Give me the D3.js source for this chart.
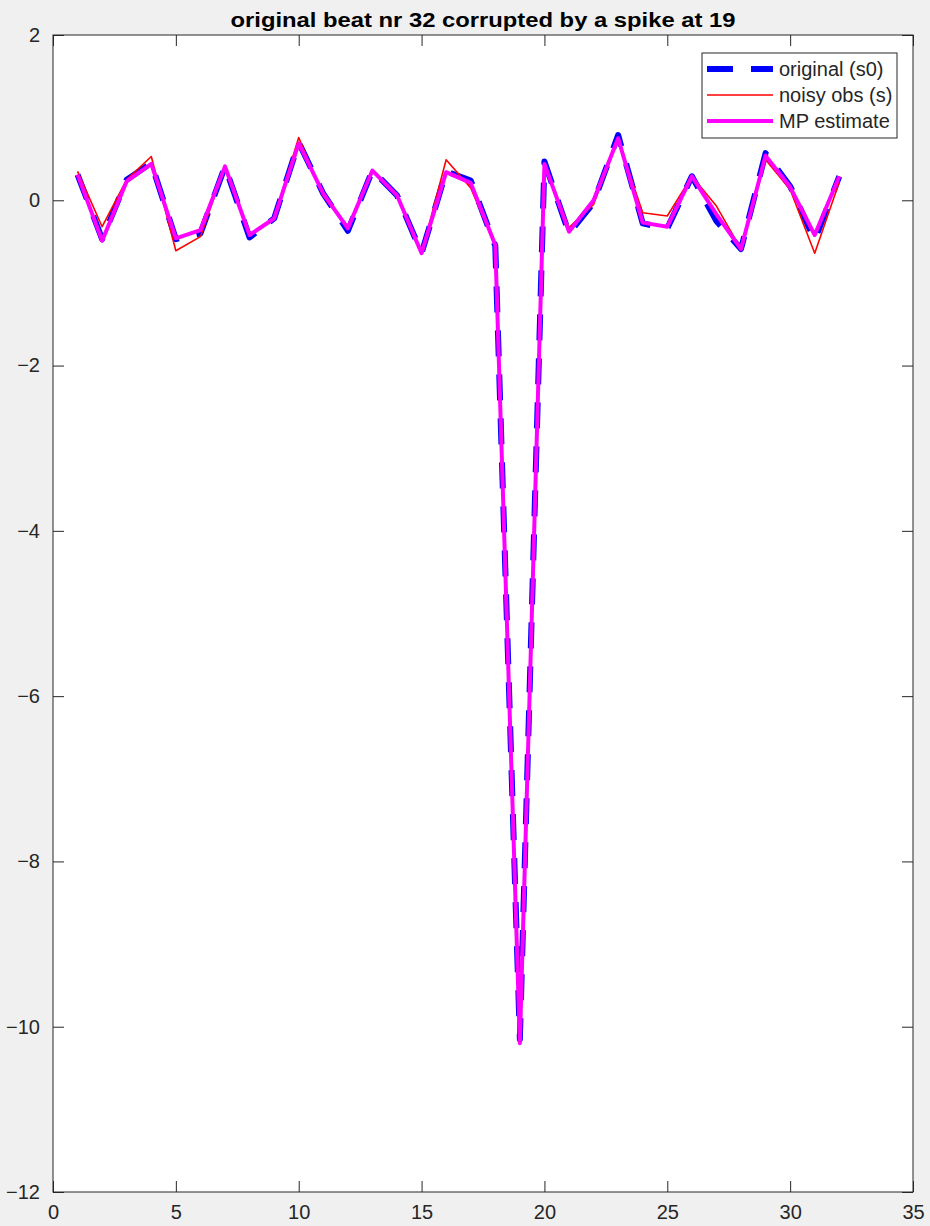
<!DOCTYPE html>
<html>
<head>
<meta charset="utf-8">
<title>beat 32</title>
<script src="https://d3js.org/d3.v7.min.js"></script>
<style>
body { margin: 0; background: #f0f0f0; }
svg { display: block; font-family: Arial, "Liberation Sans", sans-serif; }
.tick text { fill: #262626; font-size: 20px; }
.tick line { stroke: #262626; }
.domain { display: none; }
</style>
</head>
<body>
<script>
// sample index 1..32
var idx = d3.range(1, 33);

// original beat (s0)
var s0 = [0.31, -0.47, 0.25, 0.45, -0.47, -0.40, 0.41, -0.45, -0.22, 0.70,
          0.08, -0.37, 0.36, 0.06, -0.64, 0.35, 0.24, -0.55, -10.15, 0.47,
          -0.40, -0.03, 0.79, -0.28, -0.34, 0.29, -0.25, -0.59, 0.57, 0.17,
          -0.48, 0.29];

// noisy observation (s)
var noisy = [0.35, -0.32, 0.25, 0.53, -0.61, -0.44, 0.41, -0.42, -0.21, 0.76,
             0.05, -0.34, 0.36, 0.06, -0.64, 0.49, 0.15, -0.55, -10.15, 0.45,
             -0.33, -0.05, 0.74, -0.15, -0.19, 0.29, -0.07, -0.59, 0.49, 0.13,
             -0.64, 0.22];

// MP estimate
var mp = [0.31, -0.49, 0.23, 0.44, -0.46, -0.36, 0.41, -0.42, -0.22, 0.69,
          0.08, -0.34, 0.36, 0.06, -0.64, 0.34, 0.21, -0.54, -10.2, 0.44,
          -0.38, 0.0, 0.75, -0.27, -0.32, 0.29, -0.17, -0.59, 0.54, 0.16,
          -0.42, 0.29];

var xTicks = [0, 5, 10, 15, 20, 25, 30, 35];
var yTicks = [2, 0, -2, -4, -6, -8, -10, -12];
var legendLabels = ["original (s0)", "noisy obs (s)", "MP estimate"];

var W = 930, H = 1226;
var m = {left: 53, right: 913, top: 35, bottom: 1192};
var tickLen = 11;
var axisCol = "#262626";

var svg = d3.select("body").append("svg")
  .attr("width", W).attr("height", H);

var x = d3.scaleLinear().domain([0, 35]).range([m.left, m.right]);
var y = d3.scaleLinear().domain([-12, 2]).range([m.bottom, m.top]);

// axes background
svg.append("rect")
  .attr("x", m.left).attr("y", m.top)
  .attr("width", m.right - m.left).attr("height", m.bottom - m.top)
  .attr("fill", "white");

// ticks on all four sides (box on)
svg.append("g").attr("transform", "translate(0," + m.bottom + ")")
  .call(d3.axisBottom(x).tickValues(xTicks).tickSizeInner(-tickLen).tickSizeOuter(0).tickPadding(8))
  .selectAll("text").attr("dy", "0.95em");
svg.append("g").attr("transform", "translate(0," + m.top + ")")
  .call(d3.axisTop(x).tickValues(xTicks).tickSizeInner(-tickLen).tickSizeOuter(0).tickFormat(""));
svg.append("g").attr("transform", "translate(" + m.left + ",0)")
  .call(d3.axisLeft(y).tickValues(yTicks).tickSizeInner(-tickLen).tickSizeOuter(0).tickPadding(13));
svg.append("g").attr("transform", "translate(" + m.right + ",0)")
  .call(d3.axisRight(y).tickValues(yTicks).tickSizeInner(-tickLen).tickSizeOuter(0).tickFormat(""));

// lines
var line = d3.line().x(function(d) { return x(d[0]); }).y(function(d) { return y(d[1]); });
function pairs(vals) { return idx.map(function(i, k) { return [i, vals[k]]; }); }

var series = [
  {vals: s0, color: "#0000ff", width: 6, dash: "26,18"},
  {vals: noisy, color: "#ff0000", width: 1.6, dash: null},
  {vals: mp, color: "#ff00ff", width: 4, dash: null}
];

series.forEach(function(s) {
  svg.append("path")
    .attr("d", line(pairs(s.vals)))
    .attr("fill", "none")
    .attr("stroke", s.color)
    .attr("stroke-width", s.width)
    .attr("stroke-linejoin", "round")
    .attr("stroke-dasharray", s.dash);
});

// axes box
svg.append("rect")
  .attr("x", m.left).attr("y", m.top)
  .attr("width", m.right - m.left).attr("height", m.bottom - m.top)
  .attr("fill", "none").attr("stroke", axisCol).attr("stroke-width", 1);

// title
svg.append("text")
  .attr("x", (m.left + m.right) / 2).attr("y", 27)
  .attr("text-anchor", "middle")
  .attr("font-weight", "bold").attr("font-size", "20px")
  .attr("fill", "#000")
  .attr("textLength", 505).attr("lengthAdjust", "spacingAndGlyphs")
  .text("original beat nr 32 corrupted by a spike at 19");

// legend
var lg = svg.append("g");
lg.append("rect")
  .attr("x", 702).attr("y", 53).attr("width", 195).attr("height", 85)
  .attr("fill", "white").attr("stroke", axisCol).attr("stroke-width", 1);
legendLabels.forEach(function(lab, k) {
  var ly = 69 + k * 26;
  var s = series[k];
  lg.append("line")
    .attr("x1", 707).attr("x2", 773).attr("y1", ly).attr("y2", ly)
    .attr("stroke", s.color).attr("stroke-width", s.width)
    .attr("stroke-dasharray", s.dash);
  lg.append("text")
    .attr("x", 779).attr("y", ly).attr("dy", "0.35em")
    .attr("font-size", "20px").attr("fill", axisCol)
    .text(lab);
});
</script>
</body>
</html>
